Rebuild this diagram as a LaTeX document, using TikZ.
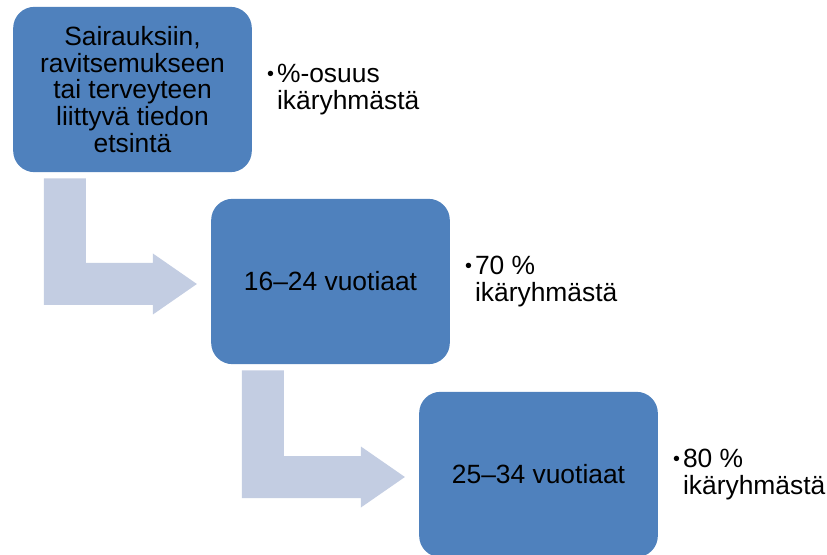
\documentclass[tikz,border=0pt]{standalone}
\usepackage{fontspec}
\setmainfont{Liberation Sans}
\usetikzlibrary{calc,positioning}
\definecolor{boxBlue}{RGB}{79,129,189}
\definecolor{arrowGrey}{RGB}{195,205,226}
\newcommand\bul{\makebox[8pt][l]{\hspace*{0.5pt}\raisebox{1.5pt}{\scalebox{0.75}{•}}}}
\newcommand\bulind{\hspace*{8pt}}

\begin{document}
\begin{tikzpicture}[x=0.75pt,y=-0.75pt,
  stage/.style={rectangle,fill=boxBlue,rounded corners=16pt,
             minimum width=179pt,minimum height=124pt,align=center,
             inner sep=0pt,font=\fontsize{19.8}{20}\selectfont},
  note/.style={align=left,inner sep=0pt,font=\fontsize{19.8}{20}\selectfont},
  elbow/.style={fill=arrowGrey}
]
  \useasboundingbox (0,0) rectangle (827,555);

  \node[stage](grp0) at (132.5,89.5) {Sairauksiin,\\ravitsemukseen\\tai terveyteen\\liittyvä tiedon\\etsintä};
  \node[stage](grp1) at (330.5,281.5) {16–24 vuotiaat};
  \node[stage](grp2) at (538.5,474.5) {25–34 vuotiaat};

  \node[note,right=10.5pt of grp0](pct0) {\bul\%-osuus\\\bulind ikäryhmästä};
  \node[note,right=10.5pt of grp1](pct1) {\bul 70 \%\\\bulind ikäryhmästä};
  \node[note,right=10.5pt of grp2](pct2) {\bul 80 \%\\\bulind ikäryhmästä};

  % bent arrows between the age groups
  \foreach \src/\dst in {grp0/grp1,grp1/grp2}{
    \coordinate (top) at ($(\src.south west)+(31,6)$);
    \coordinate (tip) at ($(\dst.west)+(-14,2.5)$);
    \fill[elbow] (top) -- ++(42,0) |- ($(tip)+(-44,-21)$) -- ++(0,-9.5)
      -- (tip) -- ($(tip)+(-44,30.5)$) -- ++(0,-9.5) -| (top) -- cycle;
  }
\end{tikzpicture}
\end{document}
